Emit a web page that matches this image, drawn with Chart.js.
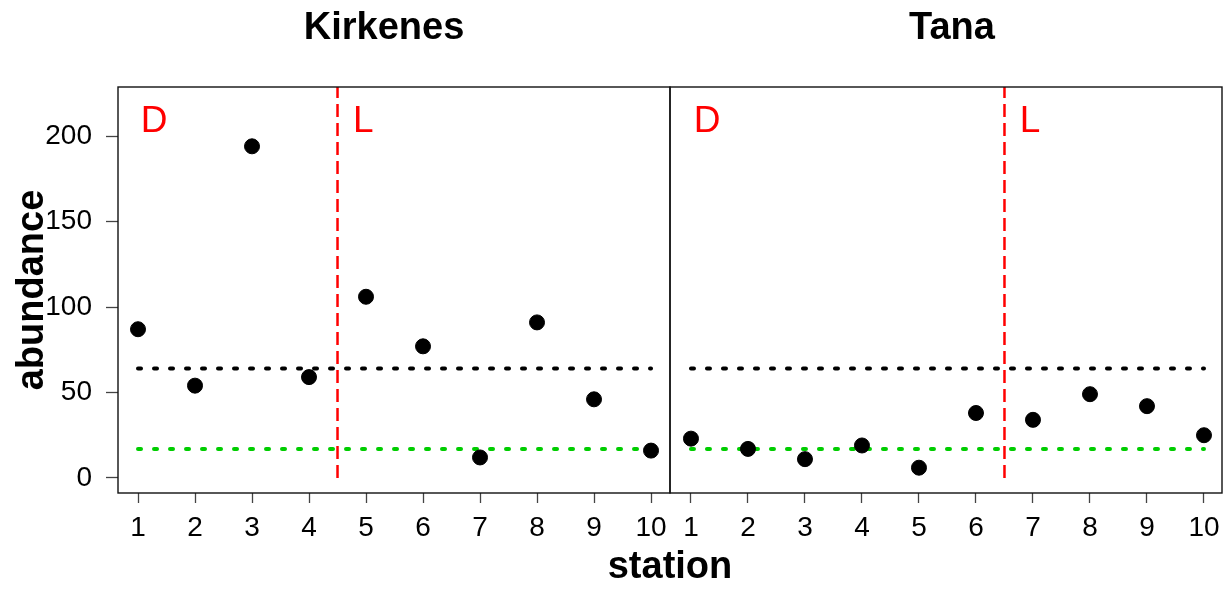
<!DOCTYPE html>
<html>
<head>
<meta charset="utf-8">
<title>abundance by station</title>
<script src="https://cdn.jsdelivr.net/npm/chart.js@4.4.1/dist/chart.umd.min.js"></script>
<style>
  body { margin: 0; background: #fff; }
  #wrap { position: relative; width: 1231px; height: 590px; }
  #wrap canvas { position: absolute; left: 0; top: 0; }
</style>
</head>
<body>
<div id="wrap">
  <canvas id="kirkenes" width="1231" height="590"></canvas>
  <canvas id="tana" width="1231" height="590"></canvas>
</div>
<script>
const stations = [1, 2, 3, 4, 5, 6, 7, 8, 9, 10];
const kirkenes = [87, 54, 194, 59, 106, 77, 12, 91, 46, 16];
const tana = [23, 17, 11, 19, 6, 38, 34, 49, 42, 25];
const abundanceTicks = [0, 50, 100, 150, 200];
const upperRef = 64;   // black dotted level
const lowerRef = 17;   // green dotted level
const kirkenesSplit = 4.5;  // D | L boundary
const tanaSplit = 6.5;

const FONT = '"Liberation Sans", Arial, sans-serif';
const yMin = -8.8, yMax = 228.7;

Chart.defaults.font.family = FONT;

// frame around each panel
const panelBox = {
  id: 'panelBox',
  afterDraw(chart) {
    const { ctx, chartArea: a } = chart;
    ctx.save();
    ctx.strokeStyle = '#111';
    ctx.lineWidth = 1.4;
    ctx.strokeRect(a.left, a.top, a.width, a.height);
    ctx.restore();
  }
};

// titles, D/L markers and the shared axis titles
const annotate = {
  id: 'annotate',
  afterDraw(chart, args, opts) {
    const { ctx, scales: { x, y } } = chart;
    ctx.save();
    ctx.fillStyle = '#000';
    ctx.font = 'bold 38px ' + FONT;
    ctx.textAlign = 'center';
    ctx.textBaseline = 'alphabetic';
    ctx.fillText(opts.title, opts.titleX, 39);

    ctx.fillStyle = '#ff0000';
    ctx.font = '37px ' + FONT;
    ctx.textAlign = 'left';
    ctx.fillText('D', x.getPixelForValue(1.05), y.getPixelForValue(202.5));
    ctx.fillText('L', x.getPixelForValue(opts.split + 0.27), y.getPixelForValue(202.5));

    if (opts.axisTitles) {
      ctx.fillStyle = '#000';
      ctx.font = 'bold 38px ' + FONT;
      ctx.textAlign = 'center';
      ctx.fillText('station', 670, 578);
      ctx.translate(43, 290);
      ctx.rotate(-Math.PI / 2);
      ctx.fillText('abundance', 0, 0);
    }
    ctx.restore();
  }
};

function refLine(level, color) {
  return {
    data: [{ x: stations[0], y: level }, { x: stations[stations.length - 1], y: level }],
    showLine: true,
    borderColor: color,
    borderWidth: 4,
    borderDash: [3, 13],
    borderCapStyle: 'round',
    pointRadius: 0
  };
}

function makePanel(id, values, split, cfg) {
  return new Chart(document.getElementById(id), {
    type: 'scatter',
    data: {
      datasets: [
        {
          data: stations.map((s, i) => ({ x: s, y: values[i] })),
          backgroundColor: '#000',
          borderColor: '#000',
          pointRadius: 7.5,
          pointHoverRadius: 7.5
        },
        refLine(upperRef, '#000'),
        refLine(lowerRef, '#00cd00'),
        {
          data: [{ x: split, y: 0 }, { x: split, y: yMax }],
          showLine: true,
          borderColor: '#ff0000',
          borderWidth: 2.5,
          borderDash: [13, 6],
          pointRadius: 0
        }
      ]
    },
    options: {
      responsive: false,
      animation: false,
      layout: { padding: cfg.padding },
      plugins: {
        legend: { display: false },
        tooltip: { enabled: false },
        annotate: { title: cfg.title, titleX: cfg.titleX, split: split, axisTitles: cfg.axisTitles }
      },
      scales: {
        x: {
          type: 'linear',
          min: cfg.xMin,
          max: cfg.xMax,
          afterBuildTicks: s => { s.ticks = stations.map(v => ({ value: v })); },
          afterFit: s => { s.height = 97; },
          ticks: { color: '#000', font: { size: 28 }, padding: 8, maxRotation: 0, autoSkip: false },
          grid: { drawOnChartArea: false, drawTicks: true, tickLength: 10, tickColor: '#444', tickWidth: 1.3 },
          border: { display: false }
        },
        y: {
          display: cfg.showY,
          min: yMin,
          max: yMax,
          afterBuildTicks: s => { s.ticks = abundanceTicks.map(v => ({ value: v })); },
          afterFit: s => { s.width = cfg.showY ? 118 : 0; },
          ticks: { color: '#000', font: { size: 28 }, padding: 14 },
          grid: { drawOnChartArea: false, drawTicks: true, tickLength: 12, tickColor: '#444', tickWidth: 1.3 },
          border: { display: false }
        }
      }
    },
    plugins: [panelBox, annotate]
  });
}

makePanel('kirkenes', kirkenes, kirkenesSplit, {
  title: 'Kirkenes', titleX: 384, axisTitles: true, showY: true,
  padding: { top: 87, right: 561, bottom: 0, left: 0 },
  xMin: 0.649, xMax: 10.333
});

makePanel('tana', tana, tanaSplit, {
  title: 'Tana', titleX: 952, axisTitles: false, showY: false,
  padding: { top: 87, right: 9, bottom: 0, left: 670 },
  xMin: 0.632, xMax: 10.316
});
</script>
</body>
</html>
